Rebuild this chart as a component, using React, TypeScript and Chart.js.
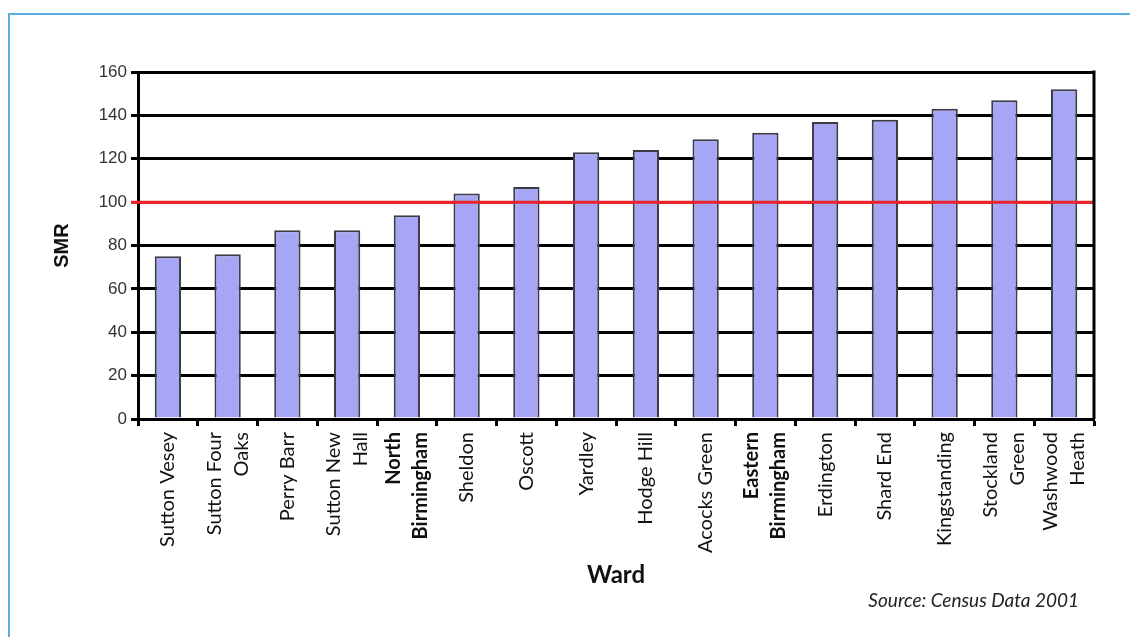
import React, { useEffect, useRef } from "react";
import { Chart, registerables } from "chart.js";

Chart.register(...registerables);

const WARDS: string[][] = [
  ["Sutton Vesey"],
  ["Sutton Four", "Oaks"],
  ["Perry Barr"],
  ["Sutton New", "Hall"],
  ["North", "Birmingham"],
  ["Sheldon"],
  ["Oscott"],
  ["Yardley"],
  ["Hodge Hill"],
  ["Acocks Green"],
  ["Eastern", "Birmingham"],
  ["Erdington"],
  ["Shard End"],
  ["Kingstanding"],
  ["Stockland", "Green"],
  ["Washwood", "Heath"],
];
const BOLD_WARDS: number[] = [4, 10];
const SMR: number[] = [75, 76, 87, 87, 94, 104, 107, 123, 124, 129, 132, 137, 138, 143, 147, 152];
const REFERENCE_SMR = 100;
const Y_MIN = 0;
const Y_MAX = 160;
const Y_STEP = 20;
const Y_TITLE = "SMR";
const X_TITLE = "Ward";
const SOURCE = "Source: Census Data 2001";

const LABEL_FONT = "Lato, 'Open Sans', sans-serif";

export default function App() {
  const ref = useRef<HTMLCanvasElement | null>(null);

  useEffect(() => {
    if (!ref.current) return;

    const overlay = {
      id: "overlay",
      afterDatasetsDraw(chart: any) {
        const { ctx, chartArea, scales } = chart;
        const y = scales.y.getPixelForValue(REFERENCE_SMR);
        ctx.save();
        ctx.strokeStyle = "#e8242c";
        ctx.lineWidth = 3;
        ctx.beginPath();
        ctx.moveTo(chartArea.left - 7, y);
        ctx.lineTo(chartArea.right + 1, y);
        ctx.stroke();
        ctx.strokeStyle = "#000";
        ctx.lineWidth = 3;
        ctx.beginPath();
        ctx.moveTo(chartArea.right, chartArea.top - 1.5);
        ctx.lineTo(chartArea.right, chartArea.bottom);
        ctx.stroke();
        ctx.restore();
      },
      afterDraw(chart: any) {
        const { ctx, chartArea, scales } = chart;
        const xs = scales.x;
        const lh = 27;
        ctx.save();
        ctx.fillStyle = "#111";
        WARDS.forEach((lines, i) => {
          const px = xs.getPixelForTick(i);
          ctx.save();
          ctx.translate(px, chartArea.bottom + 13);
          ctx.rotate(-Math.PI / 2);
          ctx.textAlign = "right";
          ctx.textBaseline = "middle";
          ctx.font = `${BOLD_WARDS.includes(i) ? "bold " : ""}20px ${LABEL_FONT}`;
          lines.forEach((line, j) => {
            ctx.fillText(line, 0, (j - (lines.length - 1) / 2) * lh);
          });
          ctx.restore();
        });
        ctx.font = `italic 19px ${LABEL_FONT}`;
        ctx.textAlign = "right";
        ctx.textBaseline = "middle";
        ctx.fillStyle = "#222";
        ctx.fillText(SOURCE, 1079, 601);
        ctx.restore();
      },
    };

    const chart = new Chart(ref.current, {
      type: "bar",
      data: {
        labels: WARDS.map((l) => l.join(" ")),
        datasets: [
          {
            data: SMR,
            backgroundColor: "#a6a6f4",
            borderColor: "#3c3c48",
            borderWidth: 2,
            categoryPercentage: 1,
            barPercentage: 0.44,
          },
        ],
      },
      options: {
        animation: false,
        responsive: false,
        devicePixelRatio: 1,
        layout: { padding: { left: 46, top: 72, right: 36, bottom: 43 } },
        plugins: {
          legend: { display: false },
          tooltip: { enabled: false },
        },
        scales: {
          x: {
            grid: {
              offset: true,
              drawOnChartArea: false,
              drawTicks: true,
              tickLength: 7,
              tickWidth: 3,
              tickColor: "#000",
            },
            border: { color: "#000", width: 3 },
            ticks: { display: false },
            title: {
              display: true,
              text: X_TITLE,
              color: "#111",
              font: { family: LABEL_FONT, size: 24, weight: "bold" },
              padding: { top: 4, bottom: 4 },
            },
            afterFit: (s: any) => {
              s.height = 637 - 419 - 43;
            },
          },
          y: {
            min: Y_MIN,
            max: Y_MAX,
            grid: {
              color: (c: any) => (c.tick && c.tick.value === REFERENCE_SMR ? "#e8242c" : "#000"),
              lineWidth: 3,
              tickLength: 7,
            },
            border: { color: "#000", width: 3 },
            ticks: {
              stepSize: Y_STEP,
              color: "#333",
              padding: 4,
              font: { family: "'Liberation Sans', Arial, sans-serif", size: 17 },
            },
            title: {
              display: true,
              text: Y_TITLE,
              color: "#111",
              font: { family: "'Liberation Sans', Arial, sans-serif", size: 20, weight: "bold" },
              padding: { top: 4, bottom: 4 },
            },
            afterFit: (s: any) => {
              s.width = 138 - 46;
            },
          },
        },
      },
      plugins: [overlay],
    });

    return () => chart.destroy();
  }, []);

  return (
    <div style={{ position: "fixed", left: 0, top: 0, width: 1130, height: 637, background: "#fff" }}>
      <div
        style={{
          position: "absolute",
          left: 8,
          top: 13,
          right: 0,
          bottom: 0,
          borderTop: "2px solid #5aaee2",
          borderLeft: "2px solid #5aaee2",
        }}
      />
      <canvas ref={ref} width={1130} height={637} style={{ position: "absolute", left: 0, top: 0 }} />
    </div>
  );
}
